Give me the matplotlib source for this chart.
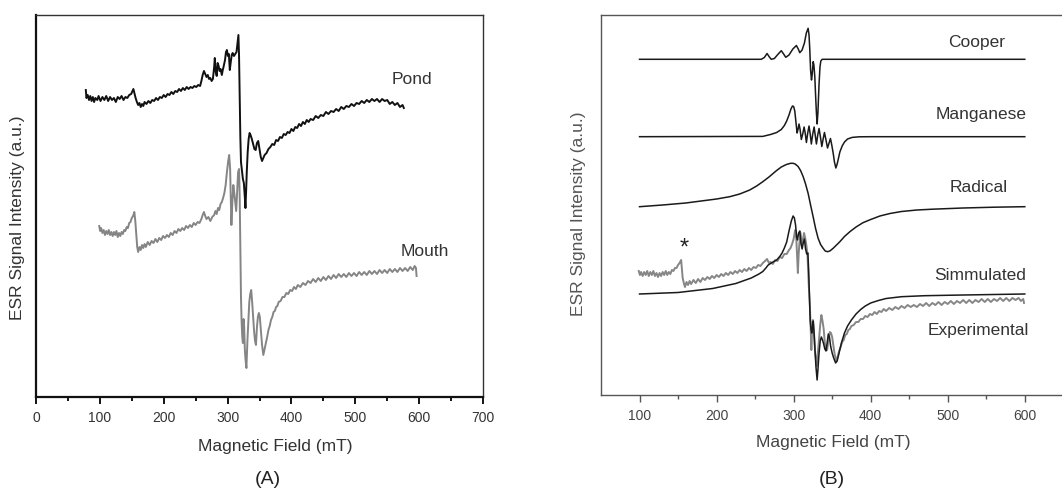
import numpy as np
import matplotlib.pyplot as plt

plt.rcParams['font.family'] = ['Liberation Sans', 'DejaVu Sans']

# ---- panel A: field (mT), intensity (a.u.) ----
pond = [(78, 307), (79, 299), (81, 302), (83, 297), (85, 301), (87, 296), (89, 300), (91, 295),
        (93, 299), (96, 297), (98, 301), (101, 296), (104, 300), (107, 297), (110, 301), (113, 296),
        (116, 300), (119, 297), (122, 299), (125, 295), (128, 300), (131, 298), (134, 301), (137, 297),
        (140, 300), (143, 299), (146, 302), (149, 303), (151, 306), (152.5, 308), (154, 304), (156, 299),
        (158, 295), (160, 292), (162, 294), (164, 290), (166, 293), (168, 291), (170, 295), (173, 293),
        (176, 296), (179, 294), (182, 297), (185, 296), (188, 299), (191, 297), (194, 300), (197, 299),
        (200, 302), (203, 300), (206, 303), (209, 302), (212, 305), (215, 303), (218, 306), (221, 305),
        (224, 308), (227, 306), (230, 309), (233, 307), (236, 310), (239, 308), (242, 310), (245, 309),
        (248, 311), (251, 310), (254, 312), (257, 311), (259, 316), (261, 322), (263, 326), (265, 323),
        (267, 320), (269, 322), (271, 318), (273, 319), (275, 316), (277, 318), (279, 330), (280, 339),
        (281.5, 325), (283, 321), (284.5, 334), (286, 331), (287.5, 326), (289, 328), (291, 322),
        (292.5, 327), (294, 331), (296, 337), (297.5, 345), (299, 347), (300.5, 341), (302, 343),
        (303.5, 327), (305, 335), (306.5, 342), (308, 344), (310, 341), (312, 343), (314, 345),
        (316, 356), (317, 362), (318, 340), (319, 300), (320, 260), (321, 235), (322.5, 226),
        (324, 218), (325.5, 214), (327, 200), (328, 189), (329, 205), (330, 224), (331.5, 245),
        (333, 258), (334.5, 264), (336, 262), (338, 258), (340, 253), (342, 248), (344, 247),
        (346, 254), (348, 256), (350, 248), (352, 240), (354, 236), (356, 239), (358, 242), (361, 244),
        (364, 248), (367, 250), (370, 253), (373, 252), (376, 257), (379, 256), (382, 260), (385, 259),
        (388, 263), (391, 262), (394, 265), (397, 264), (400, 268), (403, 266), (406, 270), (409, 269),
        (412, 273), (415, 271), (418, 275), (421, 273), (424, 277), (427, 275), (430, 278), (434, 277),
        (438, 281), (442, 279), (446, 282), (450, 281), (454, 285), (458, 283), (462, 286), (466, 285),
        (470, 288), (474, 286), (478, 290), (482, 288), (486, 291), (490, 290), (494, 293), (498, 291),
        (502, 294), (506, 293), (510, 296), (514, 294), (518, 297), (522, 295), (526, 298), (530, 296),
        (534, 298), (538, 295), (542, 298), (546, 296), (550, 297), (554, 293), (558, 295), (562, 292),
        (566, 294), (570, 290), (574, 292), (576, 289)]

mouth = [(99, 171), (100.5, 166), (102, 169), (104, 164), (106, 167), (108, 162), (110, 166), (112, 163),
         (114, 167), (116, 162), (118, 165), (120, 161), (122, 165), (124, 162), (126, 166), (128, 160),
         (130, 164), (132, 161), (134, 165), (136, 163), (138, 167), (140, 166), (142, 170), (144, 169),
         (146, 174), (148, 175), (150, 179), (152, 181), (154, 185), (155.5, 176), (157, 163), (158.5, 150),
         (160, 145), (162, 150), (164, 147), (166, 152), (168, 149), (170, 153), (172, 150), (175, 155),
         (178, 152), (181, 156), (184, 154), (187, 158), (190, 155), (193, 159), (196, 157), (199, 161),
         (202, 159), (205, 162), (208, 160), (211, 164), (214, 162), (217, 166), (220, 164), (223, 168),
         (226, 166), (229, 169), (232, 167), (235, 171), (238, 169), (241, 172), (244, 170), (247, 174),
         (250, 172), (253, 175), (256, 174), (259, 178), (261, 182), (263, 185), (265, 181), (267, 178),
         (270, 180), (273, 176), (276, 180), (279, 182), (281, 186), (283, 183), (285, 189), (287, 187),
         (289, 193), (291, 195), (293, 199), (295, 204), (297, 212), (299, 225), (301, 236), (302.5, 242),
         (304, 228), (305, 200), (306, 172), (307.5, 195), (309, 212), (310.5, 204), (312, 195),
         (313.5, 186), (315, 205), (316.5, 225), (318, 228), (319, 200), (320, 150), (321, 100), (322, 75),
         (323, 60), (324, 54), (325, 78), (326, 70), (327, 48), (328, 38), (329.5, 29), (331, 55),
         (332.5, 75), (334, 95), (335.5, 103), (337, 107), (338.5, 95), (340, 80), (341.5, 66), (343, 56),
         (344.5, 52), (346, 70), (347.5, 80), (349, 84), (350.5, 80), (352, 68), (354, 52), (356, 42),
         (358, 48), (360, 54), (362, 60), (364, 67), (366, 71), (368, 77), (370, 80), (372, 85), (374, 86),
         (376, 90), (378, 91), (380, 95), (383, 96), (386, 100), (389, 100), (392, 104), (395, 103),
         (398, 107), (401, 106), (404, 110), (407, 108), (410, 112), (414, 110), (418, 114), (422, 112),
         (426, 116), (430, 114), (434, 118), (438, 115), (442, 119), (446, 116), (450, 120), (454, 117),
         (458, 121), (462, 118), (466, 122), (470, 119), (474, 123), (478, 120), (482, 123), (486, 120),
         (490, 124), (494, 121), (498, 124), (502, 121), (506, 125), (510, 122), (514, 125), (518, 122),
         (522, 126), (526, 123), (530, 126), (534, 123), (538, 127), (542, 124), (546, 127), (550, 124),
         (554, 128), (558, 125), (562, 128), (566, 125), (570, 129), (574, 126), (578, 129), (582, 126),
         (586, 130), (590, 127), (593, 131), (595, 129), (596, 121)]

# ---- panel B ----
cooper = [(100, 335.7), (258, 335.7), (262, 337.5), (265.5, 341.5), (268.5, 338), (271, 335.7),
          (275, 336.5), (280, 341), (284, 344.3), (287, 341), (289.8, 337.7), (294, 340), (299, 346),
          (303.6, 349.5), (306, 346), (308, 342.3), (311, 345), (314, 352), (316.5, 362), (318.8, 366.7),
          (320, 360), (321, 345), (322, 325), (323.2, 315), (324, 320), (325.4, 333.3), (326.3, 330),
          (327.5, 318), (328.5, 300), (329.5, 283), (330.5, 271), (331.5, 282), (333, 311), (334.2, 328),
          (335.3, 334), (337, 335.7), (600, 335.7)]

manganese = [(100, 258.3), (260, 258.6), (270, 260.5), (278, 262.5), (284, 265.5), (288, 269.5),
             (291, 274), (294, 280), (296.5, 286), (298.5, 289), (300, 288.5), (301.5, 284), (303, 273),
             (304.5, 262), (305.8, 266), (307, 271), (308.3, 266), (310, 255.5), (311.8, 261),
             (313.6, 268), (315, 262), (316.6, 252.5), (318.3, 262), (320, 269), (321.5, 261), (323, 251),
             (324.8, 261), (326.6, 268), (328, 260), (329.6, 251), (331.3, 260), (333, 266.5),
             (334.8, 258), (336.6, 248.5), (338.3, 256), (340, 262.5), (342, 255), (344, 247), (346, 252),
             (347.8, 256.5), (349.5, 250), (351.3, 242), (353, 233), (354.8, 227), (356.5, 231), (358, 236),
             (360, 243), (363, 249), (366, 253), (370, 256), (376, 257.6), (385, 258.2), (400, 258.3),
             (600, 258.3)]

radical = [(100, 188.3), (130, 190), (160, 192), (180, 194), (200, 196), (217, 198.3), (230, 201),
           (243, 205), (252, 209), (260, 213.3), (268, 218), (277.6, 224.3), (284, 228), (290.6, 230.5),
           (296, 231.7), (299.3, 231.7), (302, 231), (305.8, 228.5), (309, 224.5), (312.3, 218.5),
           (315.5, 211), (318.8, 201.7), (322, 190), (325.3, 178.3), (328.5, 166.5), (331.8, 156.7),
           (335, 150.5), (338.3, 146.7), (341, 144), (344, 143.3), (347, 144), (351.3, 146.7),
           (355, 149.5), (360, 153.3), (366, 158.5), (373, 163.3), (381, 168), (390, 172.3), (400, 175.5),
           (412, 179), (425, 181.5), (440, 183.5), (460, 185), (480, 185.8), (520, 187), (560, 187.8),
           (600, 188.3)]

simulated = [(100, 101), (150, 102.5), (195, 106.5), (225, 111.5), (245, 117), (255, 121), (260, 123.5),
             (264, 127), (267, 130), (272, 132.5), (278, 135), (282, 138.5), (285, 142), (288, 147),
             (291, 153), (294, 164), (297, 174), (299.3, 179), (301, 177), (302.5, 170), (304, 158),
             (305, 155), (306.5, 162), (308, 164), (309.5, 152), (311, 146), (312.5, 152), (314, 156),
             (315.5, 146), (317, 141), (318.5, 142), (319.5, 125), (320.5, 100), (321.5, 75), (322.5, 66),
             (323.5, 62), (324.5, 68), (325.5, 74), (326.5, 62), (327.5, 48), (329, 28), (330.5, 15),
             (331.5, 25), (333, 42), (334.5, 54), (336, 58), (337.5, 55), (339, 51), (340.5, 46), (342, 44),
             (343.5, 52), (345, 61), (346.5, 58), (348, 49), (350, 42), (352, 37), (354.5, 32), (356.5, 34),
             (359, 42), (362, 52), (366, 62), (370, 69), (375, 75), (381, 81), (387, 85.5), (393, 89),
             (400, 92), (410, 94.5), (420, 96.5), (440, 98.3), (470, 99.3), (520, 100), (560, 100.5),
             (600, 101)]

experimental = [(99, 124), (100.5, 120), (102, 123), (104, 119), (106, 123), (108, 120), (110, 124),
                (112, 119), (114, 123), (116, 120), (118, 124), (120, 119), (122, 122), (124, 118),
                (126, 122), (128, 119), (130, 123), (132, 120), (134, 124), (136, 120), (138, 123),
                (140, 121), (142, 125), (144, 124), (146, 127), (148, 127), (150, 130), (152, 132),
                (154, 135), (155, 126), (156, 117), (157.5, 112), (159, 108), (161, 113), (163, 110),
                (165, 114), (167, 111), (170, 115), (173, 112), (176, 116), (179, 113), (182, 117),
                (185, 115), (188, 118), (191, 116), (194, 119), (197, 117), (200, 120), (203, 118),
                (206, 121), (209, 119), (212, 122), (215, 120), (218, 123), (221, 121), (224, 124),
                (227, 122), (230, 125), (233, 123), (236, 126), (239, 124), (242, 127), (245, 125),
                (248, 128), (251, 127), (254, 130), (257, 129), (260, 132), (263, 134), (265.5, 136),
                (268, 132), (270, 133), (273, 131), (276, 135), (279, 134), (282, 138), (285, 137),
                (288, 141), (291, 141), (294, 145), (296, 147), (298, 151), (300, 156), (302, 165),
                (303.5, 156), (304.5, 138), (305.5, 122), (306.5, 140), (307.5, 152), (309, 162),
                (310.5, 150), (312, 155), (313.5, 162), (315, 157), (316.5, 150), (318, 140), (319.5, 112),
                (321, 90), (322, 70), (323, 45), (324, 65), (325, 75), (326.5, 62), (328, 42), (330, 29),
                (331.5, 42), (333, 56), (334.5, 70), (336, 80), (337.5, 74), (339, 66), (340.5, 52),
                (342, 47), (343.5, 45), (345, 54), (347, 63), (348.5, 62), (350, 58), (351.5, 50),
                (353, 42), (355, 34), (357, 38), (359, 44), (361, 48), (363, 53), (365, 55), (367, 60),
                (369, 61), (371, 65), (373, 66), (375, 69), (378, 70), (381, 73), (384, 73), (387, 76),
                (390, 76), (393, 79), (396, 78), (399, 81), (402, 80), (405, 83), (408, 81), (411, 84),
                (414, 83), (417, 86), (420, 84), (424, 87), (428, 85), (432, 88), (436, 86), (440, 89),
                (444, 87), (448, 90), (452, 88), (456, 90), (460, 88), (464, 91), (468, 89), (472, 92),
                (476, 89), (480, 92), (484, 90), (488, 93), (492, 90), (496, 93), (500, 91), (504, 94),
                (508, 91), (512, 94), (516, 92), (520, 95), (524, 92), (528, 95), (532, 92), (536, 95),
                (540, 93), (544, 96), (548, 93), (552, 96), (556, 93), (560, 96), (564, 94), (568, 97),
                (572, 94), (576, 97), (580, 94), (584, 97), (588, 95), (592, 97), (595, 94), (598, 96),
                (599, 92)]

labels_b = ['Cooper', 'Manganese', 'Radical', 'Simmulated', 'Experimental']
label_pos_b = [(538, 353), (543, 281), (540, 207), (542, 120), (540, 65)]

W, H = 1062, 490
fig = plt.figure(figsize=(W / 100, H / 100), dpi=100)


def fpos(x, y):
    return x / W, 1 - y / H


# panel A
axA = fig.add_axes([36 / W, (H - 397) / H, 447 / W, 382 / H])
xa, ya = np.array(pond).T
axA.plot(xa, ya, color='#111111', lw=1.4)
xa, ya = np.array(mouth).T
axA.plot(xa, ya, color='#858585', lw=1.4)
axA.set_xlim(0, 700)
axA.set_ylim(0, 382)
axA.set_xticks(np.arange(0, 701, 100))
axA.set_xticks(np.arange(50, 700, 100), minor=True)
axA.set_yticks([])
axA.text(588, 317, 'Pond', ha='center', va='center', fontsize=12.5, color='#333333')
axA.text(609, 146, 'Mouth', ha='center', va='center', fontsize=12.5, color='#333333')
for s in ['left', 'bottom']:
    axA.spines[s].set_linewidth(1.6)
    axA.spines[s].set_color('#111111')
for s in ['top', 'right']:
    axA.spines[s].set_linewidth(1.0)
    axA.spines[s].set_color('#333333')
axA.tick_params(axis='x', which='major', direction='out', length=5, width=1.3, pad=5,
                labelsize=10, labelcolor='#333333')
axA.tick_params(axis='x', which='minor', direction='out', length=3, width=1.3)

# panel B (right spine falls just outside the picture, as in the original)
axB = fig.add_axes([601 / W, (H - 395) / H, 465 / W, 380 / H])
for series in [cooper, manganese, radical]:
    xb, yb = np.array(series).T
    axB.plot(xb, yb, color='#1a1a1a', lw=1.1)
xb, yb = np.array(experimental).T
axB.plot(xb, yb, color='#868686', lw=1.4)
xb, yb = np.array(simulated).T
axB.plot(xb, yb, color='#1a1a1a', lw=1.1)
axB.set_xlim(50, 653.5)
axB.set_ylim(0, 380)
axB.set_xticks(np.arange(100, 601, 100))
axB.set_xticks(np.arange(150, 651, 100), minor=True)
axB.set_yticks([])
for lab, (lx, ly) in zip(labels_b, label_pos_b):
    axB.text(lx, ly, lab, ha='center', va='center', fontsize=12.5, color='#333333')
axB.text(157.6, 146, '*', ha='center', va='center', fontsize=17, color='#222222')
for s in axB.spines.values():
    s.set_linewidth(1.0)
    s.set_color('#555555')
axB.tick_params(axis='x', which='major', direction='out', length=5, width=1.0, pad=5,
                labelsize=10, labelcolor='#444444', color='#555555')
axB.tick_params(axis='x', which='minor', direction='out', length=3, width=1.0, color='#555555')

# axis titles and panel letters
fig.text(*fpos(275, 447), 'Magnetic Field (mT)', ha='center', va='center', fontsize=12.5, color='#333333')
fig.text(*fpos(833, 442), 'Magnetic Field (mT)', ha='center', va='center', fontsize=12.5, color='#444444')
fig.text(*fpos(18, 218), 'ESR Signal Intensity (a.u.)', ha='center', va='center', rotation=90,
         fontsize=12.5, color='#333333')
fig.text(*fpos(579, 214), 'ESR Signal Intensity (a.u.)', ha='center', va='center', rotation=90,
         fontsize=12.5, color='#555555')
fig.text(*fpos(268, 479), '(A)', ha='center', va='center', fontsize=14, color='#222222')
fig.text(*fpos(832, 479), '(B)', ha='center', va='center', fontsize=14, color='#222222')

fig.savefig('out.png', dpi=100)
